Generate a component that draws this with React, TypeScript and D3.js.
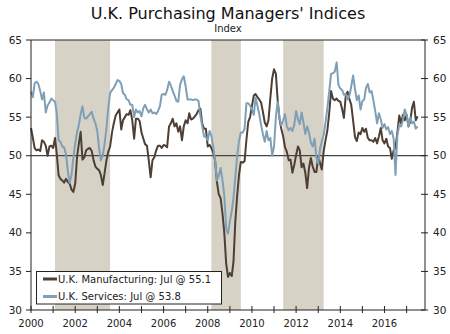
import React from 'react';
import * as d3 from 'd3';

// Monthly values, Jan 2000 – Jul 2017 (one row per year)
const manufacturing: number[] = [
  53.6, 52.3, 51.0, 50.7, 50.8, 50.6, 52.0, 51.8, 51.3, 50.0, 51.2, 51.3,
  51.0, 52.3, 50.3, 47.5, 47.0, 46.8, 46.5, 47.0, 46.6, 46.4, 45.6, 45.3,
  46.4, 49.9, 51.5, 53.1, 49.5, 49.8, 50.7, 50.9, 51.0, 50.6, 49.4, 48.6,
  48.3, 48.1, 47.5, 46.2, 47.7, 49.4, 50.5, 51.2, 53.0, 54.2, 55.2, 55.6,
  56.0, 53.4, 54.6, 55.0, 55.4, 55.3, 55.9, 54.6, 52.2, 54.8, 54.8, 54.5,
  53.0, 52.2, 51.5, 51.3, 49.4, 47.2, 49.4, 49.8, 50.7, 51.3, 51.3, 51.0,
  51.4, 51.3, 51.1, 53.8, 54.2, 54.8, 53.8, 54.2, 53.1, 53.8, 52.0, 53.8,
  54.6, 54.2, 55.5, 54.7, 54.8, 55.1, 55.4, 55.9, 56.1, 54.2, 53.5, 53.5,
  51.2, 51.4, 51.0, 50.4, 49.4, 46.6, 45.0, 44.5, 42.5, 40.0, 36.0, 34.3,
  34.8, 34.4, 36.2, 41.5, 44.8, 47.5, 49.2, 49.1, 49.3, 52.0, 54.4, 55.0,
  56.5, 57.8, 58.0, 57.6, 57.3, 56.9, 55.7, 54.3, 53.8, 54.6, 57.5, 60.0,
  61.2, 60.6, 57.3, 54.8, 53.5, 52.5, 51.1, 50.5, 49.4, 49.5, 47.8, 48.8,
  50.1, 51.2, 50.7, 48.5, 49.0, 47.8, 45.8, 48.4, 49.7, 48.6, 47.9, 47.9,
  49.9, 49.0, 48.2, 50.6, 52.0, 53.3, 55.5, 58.4, 57.4, 57.2, 57.4, 57.1,
  57.0, 56.0, 54.9, 57.8, 58.3, 57.3, 56.6, 54.5, 52.4, 51.9, 53.0, 52.8,
  53.6, 53.1, 53.5, 52.3, 52.0, 52.0, 51.8, 52.3, 51.6, 52.5, 53.6, 52.0,
  51.6, 52.2, 51.2, 51.0, 49.6, 50.7, 51.0, 53.0, 55.2, 54.2, 55.3, 54.6,
  55.3, 53.8, 54.4, 56.2, 57.0, 54.6, 55.1,
];

const services: number[] = [
  58.3, 57.6, 59.4, 59.6, 59.3, 58.4, 57.3, 58.2, 55.6, 56.5, 56.9, 57.4,
  57.2, 57.0, 55.6, 52.0, 51.8, 51.2, 51.1, 50.2, 48.0, 46.5, 47.5, 49.7,
  51.6, 53.1, 53.9, 55.4, 56.4, 54.9, 54.8, 55.1, 55.4, 55.7, 54.8, 54.2,
  53.2, 50.9, 49.4, 50.0, 51.5, 53.5, 56.2, 58.1, 58.5, 58.8, 59.3, 59.8,
  59.7, 59.3, 58.1, 57.9, 57.3, 57.2, 56.6, 56.6, 55.0, 56.0, 55.6, 55.8,
  55.1, 56.2, 56.6, 56.0, 55.6, 56.0, 55.5, 55.6, 55.4, 55.8, 56.4, 57.9,
  58.0, 57.9, 58.5, 59.6, 59.1, 58.4, 57.8, 57.1, 57.0, 59.2, 59.9, 60.3,
  59.0, 57.3, 57.3, 57.3, 57.2, 57.3, 57.3, 57.1, 55.2, 53.9, 52.5, 52.4,
  52.0, 53.2, 52.6, 51.1, 49.4, 46.8, 47.4, 48.4, 46.8, 44.8, 40.5, 39.9,
  41.5, 42.8, 44.5, 47.2, 50.0, 51.9, 53.0, 53.0, 53.5, 56.8, 56.8, 56.5,
  56.0, 55.3, 57.5, 56.5, 55.4, 54.0, 52.8, 51.8, 53.2, 52.0, 52.3, 50.0,
  51.2, 55.0, 57.0, 54.9, 53.9, 54.6, 55.4, 53.8, 53.3, 53.6, 53.2, 54.0,
  55.8, 54.7, 54.1, 55.6, 54.3, 52.8, 53.8, 53.0, 51.7, 51.2, 52.2, 49.8,
  49.0, 50.9, 51.9, 52.7, 54.3, 56.2, 58.3, 60.6, 60.7, 60.9, 62.1, 59.2,
  58.7, 58.5, 57.9, 58.0, 57.3, 57.8, 59.0, 60.4, 58.6, 57.2, 57.8, 56.0,
  57.1, 57.3, 58.8, 59.3, 58.2, 58.4, 57.2, 55.8, 54.2, 55.5, 54.7, 53.6,
  54.1, 53.4, 53.7, 52.8, 53.2, 52.2, 47.5, 52.6, 54.0, 53.8, 54.6, 56.0,
  55.3, 53.8, 55.0, 54.2, 54.4, 53.5, 53.8,
];

const seriesNames = ['U.K. Manufacturing: Jul @ 55.1', 'U.K. Services: Jul @ 53.8'];
const shadeStarts = ['2001-02', '2008-03', '2011-06'];
const shadeEnds = ['2003-08', '2009-07', '2013-04'];
const yTicks = [30, 35, 40, 45, 50, 55, 60, 65];
const xLabelYears = [2000, 2002, 2004, 2006, 2008, 2010, 2012, 2014, 2016];
const xMinorYears = [2001, 2003, 2005, 2007, 2009, 2011, 2013, 2015, 2017];

const FONT = 'DejaVu Sans, Verdana, sans-serif';
const BROWN = '#4d3f35';
const BLUE = '#7f9fb6';
const SHADE = '#d6d2c6';
const AXIS = '#222';

export default function App() {
  const W = 450, H = 334;
  const L = 31, R = 425, T = 40, B = 310;
  const x = d3.scaleTime().domain([new Date(2000, 0, 1), new Date(2017, 10, 1)]).range([L, R]);
  const y = d3.scaleLinear().domain([30, 65]).range([B, T]);
  const start = new Date(2000, 0, 1);
  const parse = d3.timeParse('%Y-%m');

  const mkLine = (vals: number[]) =>
    d3.line<number>()
      .x((_, i) => x(d3.timeMonth.offset(start, i)))
      .y((d) => y(d))(vals) || '';

  return (
    <svg width={W} height={H} style={{ position: 'absolute', left: 0, top: 0, display: 'block' }}
      fontFamily={FONT}>
      <rect x={0} y={0} width={W} height={H} fill="#fff" />
      <text x={228} y={19} textAnchor="middle" fontSize={16} fill="#111">U.K. Purchasing Managers' Indices</text>
      <text x={228} y={31.5} textAnchor="middle" fontSize={10} fill="#222">Index</text>

      {shadeStarts.map((s, i) => {
        const x0 = x(parse(s)!);
        const x1 = x(parse(shadeEnds[i])!);
        return <rect key={s} x={x0} y={T} width={x1 - x0} height={B - T} fill={SHADE} />;
      })}

      <line x1={L} x2={R} y1={y(50)} y2={y(50)} stroke="#444" strokeWidth={1.2} />

      <path d={mkLine(manufacturing)} fill="none" stroke={BROWN} strokeWidth={2} strokeLinejoin="round" />
      <path d={mkLine(services)} fill="none" stroke={BLUE} strokeWidth={2} strokeLinejoin="round" />

      {/* frame */}
      <line x1={L} x2={R} y1={T} y2={T} stroke={AXIS} strokeWidth={1} />
      <line x1={L} x2={R} y1={B} y2={B} stroke={AXIS} strokeWidth={1} />
      <line x1={L} x2={L} y1={T} y2={B} stroke={AXIS} strokeWidth={1} />
      <line x1={R} x2={R} y1={T} y2={B} stroke={AXIS} strokeWidth={1} />

      {yTicks.map((t) => (
        <g key={t}>
          <line x1={L - 5} x2={L} y1={y(t)} y2={y(t)} stroke={AXIS} />
          <line x1={R - 4} x2={R + 3} y1={y(t)} y2={y(t)} stroke={AXIS} />
          <text x={L - 9} y={y(t) + 3.6} textAnchor="end" fontSize={10.5} fill="#222">{t}</text>
          <text x={R + 8} y={y(t) + 3.6} textAnchor="start" fontSize={10.5} fill="#222">{t}</text>
        </g>
      ))}

      {xLabelYears.concat(xMinorYears).map((yr) => {
        const xx = x(new Date(yr, 0, 1));
        return <line key={'t' + yr} x1={xx} x2={xx} y1={B - 4} y2={B + 3} stroke={AXIS} />;
      })}
      {xLabelYears.map((yr) => (
        <text key={'l' + yr} x={x(new Date(yr, 0, 1))} y={326.5} textAnchor="middle" fontSize={10} fill="#222">{yr}</text>
      ))}

      {/* legend */}
      <rect x={36.5} y={271.5} width={185} height={32.5} fill="#fff" stroke={AXIS} strokeWidth={1} />
      {seriesNames.map((n, i) => (
        <g key={n}>
          <line x1={43} x2={57} y1={279 + i * 17.5} y2={279 + i * 17.5} stroke={i === 0 ? BROWN : BLUE} strokeWidth={3} />
          <text x={58} y={282.7 + i * 17.5} fontSize={10} fill="#222">{n}</text>
        </g>
      ))}
    </svg>
  );
}
